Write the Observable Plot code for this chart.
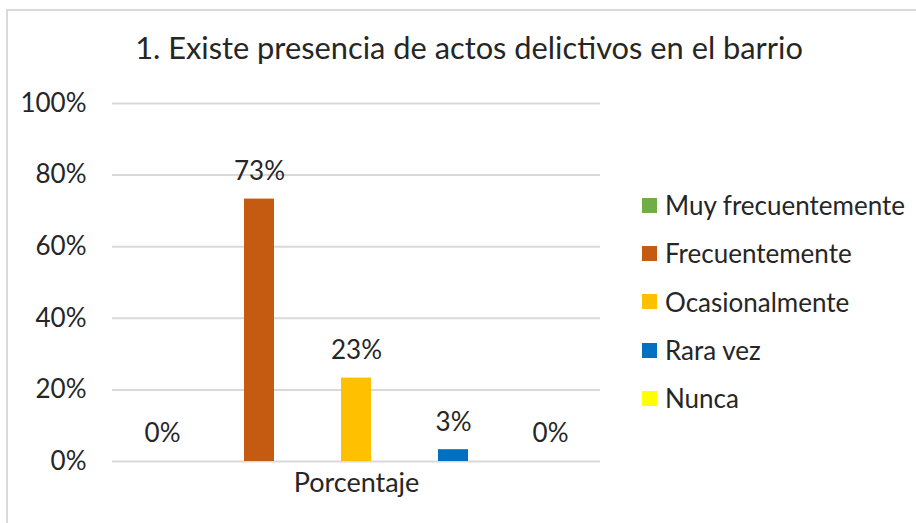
<!DOCTYPE html>
<html>
<head>
<meta charset="utf-8">
<script src="https://cdn.jsdelivr.net/npm/d3@7"></script>
<script src="https://cdn.jsdelivr.net/npm/@observablehq/plot@0.6"></script>
<style>
  body { margin: 0; background: #fff; }
  #chart { position: relative; width: 916px; height: 523px; overflow: hidden; background: #fff; font-family: Lato, "Noto Sans", sans-serif; }
  #border { position: absolute; left: 6px; top: 9px; width: 1000px; height: 700px; border: 2px solid #D9D9D9; box-sizing: border-box; }
  #plot { position: absolute; left: 0; top: 0; }
  #title { position: absolute; left: 0; width: 938px; top: 29px; text-align: center; font-size: 30.8px; color: #262626; white-space: nowrap; }
  #legend { position: absolute; left: 642px; top: 181px; }
  .item { height: 48.3px; display: flex; align-items: center; font-size: 26px; color: #262626; white-space: nowrap; }
  .sw { width: 15px; height: 15px; margin-right: 8px; flex: none; }
</style>
</head>
<body>
<div id="chart">
  <div id="border"></div>
  <div id="plot"></div>
  <div id="title"></div>
  <div id="legend"></div>
</div>
<script>
const titulo = "1. Existe presencia de actos delictivos en el barrio";
const grupo = "Porcentaje";
const series = ["Muy frecuentemente", "Frecuentemente", "Ocasionalmente", "Rara vez", "Nunca"];
const valores = [0, 0.733, 0.233, 0.033, 0];
const colores = ["#70AD47", "#C55A11", "#FFC000", "#0070C0", "#FFFF00"];
const yTicks = [0, 0.2, 0.4, 0.6, 0.8, 1];

const data = series.map((s, i) => ({grupo, serie: s, valor: valores[i]}));
const pct = d3.format(".0%");

const chart = Plot.plot({
  width: 916,
  height: 523,
  marginLeft: 112,
  marginRight: 316,
  marginTop: 103,
  marginBottom: 62,
  style: {fontFamily: "Lato, 'Noto Sans', sans-serif", fontSize: "26px", color: "#262626", background: "transparent"},
  y: {domain: [0, 1]},
  x: {domain: series, paddingInner: 0.69, paddingOuter: 0.345, axis: null},
  fx: {domain: [grupo], padding: 0, label: null},
  color: {domain: series, range: colores},
  marks: [
    Plot.gridY(yTicks, {stroke: "#D9D9D9", strokeOpacity: 1, strokeWidth: 2}),
    Plot.axisY(yTicks, {tickFormat: pct, tickSize: 0, tickPadding: 26, label: null, fontSize: 26, fill: "#262626"}),
    Plot.axisFx({anchor: "bottom", tickSize: 0, tickPadding: 11, label: null, fontSize: 27, fill: "#262626"}),
    Plot.barY(data, {fx: "grupo", x: "serie", y: "valor", fill: "serie"}),
    Plot.text(data, {fx: "grupo", x: "serie", y: "valor", text: d => pct(d.valor), dy: -27.5, fontSize: 26, fill: "#262626"})
  ]
});
document.getElementById("plot").appendChild(chart);
document.getElementById("title").textContent = titulo;

const legend = document.getElementById("legend");
series.forEach((s, i) => {
  const row = document.createElement("div");
  row.className = "item";
  const sw = document.createElement("span");
  sw.className = "sw";
  sw.style.background = colores[i];
  const t = document.createElement("span");
  t.textContent = s;
  row.appendChild(sw);
  row.appendChild(t);
  legend.appendChild(row);
});
</script>
</body>
</html>
